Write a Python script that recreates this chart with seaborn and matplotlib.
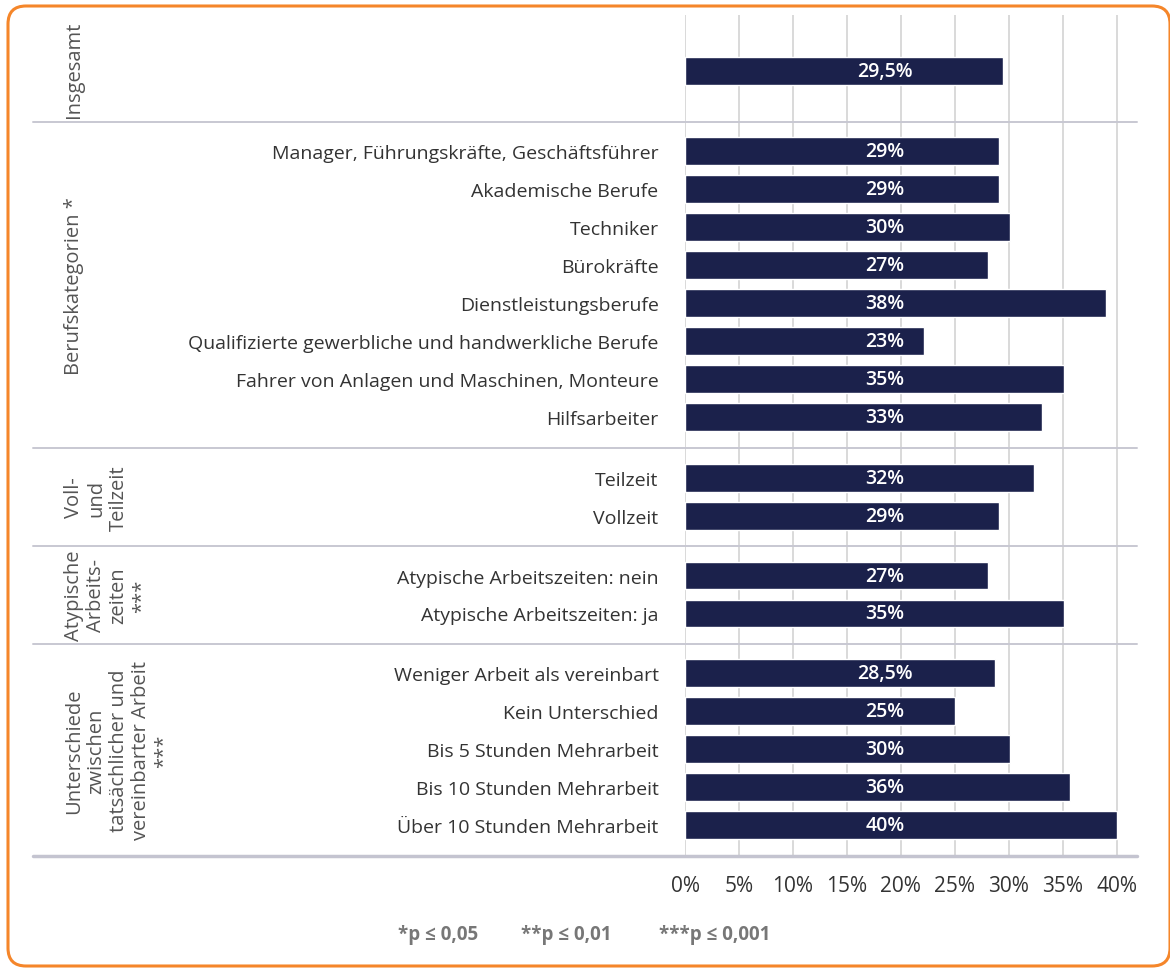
import seaborn as sns
import matplotlib.pyplot as plt
from matplotlib.lines import Line2D
from matplotlib.patches import FancyBboxPatch

# Data
group_titles = ['Insgesamt', 'Berufskategorien *', 'Voll-\nund\nTeilzeit',
                'Atypische\nArbeits-\nzeiten\n***',
                'Unterschiede\nzwischen\ntatsächlicher und\nvereinbarter Arbeit\n***']

insgesamt_cats = ['']
insgesamt_vals = [29.5]
insgesamt_text = ['29,5%']

beruf_cats = ['Manager, Führungskräfte, Geschäftsführer', 'Akademische Berufe',
              'Techniker', 'Bürokräfte', 'Dienstleistungsberufe',
              'Qualifizierte gewerbliche und handwerkliche Berufe',
              'Fahrer von Anlagen und Maschinen, Monteure', 'Hilfsarbeiter']
beruf_vals = [29.1, 29.1, 30.1, 28.1, 39.0, 22.1, 35.1, 33.1]
beruf_text = ['29%', '29%', '30%', '27%', '38%', '23%', '35%', '33%']

zeit_cats = ['Teilzeit', 'Vollzeit']
zeit_vals = [32.3, 29.1]
zeit_text = ['32%', '29%']

atyp_cats = ['Atypische Arbeitszeiten: nein', 'Atypische Arbeitszeiten: ja']
atyp_vals = [28.1, 35.1]
atyp_text = ['27%', '35%']

diff_cats = ['Weniger Arbeit als vereinbart', 'Kein Unterschied',
             'Bis 5 Stunden Mehrarbeit', 'Bis 10 Stunden Mehrarbeit',
             'Über 10 Stunden Mehrarbeit']
diff_vals = [28.7, 25.0, 30.1, 35.7, 40.0]
diff_text = ['28,5%', '25%', '30%', '36%', '40%']

xticks = [0, 5, 10, 15, 20, 25, 30, 35, 40]
footnotes = ['*p ≤ 0,05', '**p ≤ 0,01', '***p ≤ 0,001']

groups = [(insgesamt_cats, insgesamt_vals, insgesamt_text),
          (beruf_cats, beruf_vals, beruf_text),
          (zeit_cats, zeit_vals, zeit_text),
          (atyp_cats, atyp_vals, atyp_text),
          (diff_cats, diff_vals, diff_text)]

navy = '#1b214b'
grid_col = '#d9d9d9'
sep_col = '#c8c8d2'

sns.set_style('white')
plt.rcParams['font.family'] = ['Open Sans', 'DejaVu Sans']

W, H = 1170, 970
fig = plt.figure(figsize=(W / 100, H / 100), dpi=100)

# group regions in pixels (top, bottom) and padding above/below rows
bounds = [16, 123, 449, 547, 645, 857]
pads = [(56, 51), (29, 31), (30, 30), (30, 31), (29, 31)]
row_px = 38
ax_left, ax_right = 685 / W, 1120 / W

for i, (cats, vals, texts) in enumerate(groups):
    top, bot = bounds[i], bounds[i + 1]
    ax = fig.add_axes([ax_left, 1 - bot / H, ax_right - ax_left, (bot - top) / H])
    sns.barplot(x=vals, y=cats, orient='h', color=navy, width=0.72,
                saturation=1, ax=ax)
    n = len(cats)
    ax.set_ylim(n - 1 + pads[i][1] / row_px, -pads[i][0] / row_px)
    ax.set_xlim(0, 40.3)
    ax.set_xticks(xticks)
    ax.grid(axis='x', color=grid_col, linewidth=1.4)
    ax.set_axisbelow(True)
    for s in ax.spines.values():
        s.set_visible(False)
    ax.tick_params(axis='y', length=0, pad=19, labelsize=14, labelcolor='#333333')
    ax.tick_params(axis='x', length=0)
    ax.set_xlabel('')
    ax.set_ylabel('')
    if i == len(groups) - 1:
        ax.set_xticklabels([f'{t}%' for t in xticks])
        ax.tick_params(axis='x', pad=14, labelsize=15, labelcolor='#333333')
    else:
        ax.set_xticklabels([])
    for patch, t in zip(ax.patches, texts):
        yc = patch.get_y() + patch.get_height() / 2
        ax.text(18.5, yc, t, color='white', fontsize=14, fontweight='semibold',
                ha='center', va='center')

    # group title on the left
    fig.text(64 / W, 1 - (top + bot) / 2 / H, group_titles[i], rotation=90,
             ha='left', va='center', multialignment='center',
             fontsize=14.5, color='#555555', linespacing=1.15)

# separators between groups and the bottom axis line
for yb in bounds[1:-1]:
    fig.add_artist(Line2D([33 / W, 1137 / W], [1 - yb / H, 1 - yb / H],
                          color=sep_col, linewidth=1.4))
fig.add_artist(Line2D([33 / W, 1137 / W], [1 - 857 / H, 1 - 857 / H],
                      color='#c4c4d0', linewidth=2.5))

# footnote
for x, t in zip([398, 521, 659], footnotes):
    fig.text(x / W, 1 - 935 / H, t, fontsize=13.5, fontweight='bold',
             color='#777777', ha='left', va='center')

# orange rounded frame
frame = FancyBboxPatch((0.08, 0.03), 11.62, 9.6,
                       boxstyle='round,pad=0,rounding_size=0.18',
                       transform=fig.dpi_scale_trans, fill=False,
                       edgecolor='#f5862a', linewidth=2.2)
fig.add_artist(frame)

plt.savefig('out.png', dpi=100)
